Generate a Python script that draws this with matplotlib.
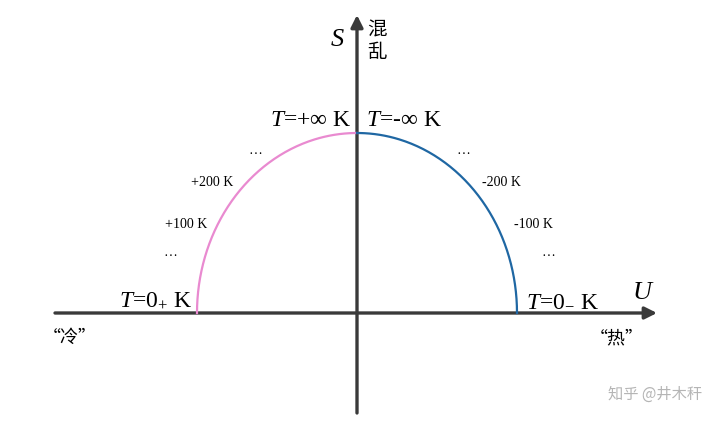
import numpy as np
import matplotlib
matplotlib.use('Agg')
import matplotlib.pyplot as plt

plt.rcParams['mathtext.fontset'] = 'custom'
plt.rcParams['mathtext.rm'] = 'Liberation Serif'
plt.rcParams['mathtext.it'] = 'Liberation Serif:italic'

SERIF = ['Liberation Serif', 'DejaVu Serif']
CJK = ['Noto Sans CJK SC', 'DejaVu Sans']

# chart content, in pixel space of the 720x424 picture
origin = (357, 313)
radius_x, radius_y = 160, 180
u_axis = (55, 657)
s_axis = (413, 15)

pink = '#e98ad0'
blue = '#1f67a3'
axis_col = '#3a3a3a'

left_labels = ['…', '+200 K', '+100 K', '…']
left_pos = [(255, 150), (212, 182), (186, 224), (170, 252)]
right_labels = ['…', '-200 K', '-100 K', '…']
right_pos = [(463, 150), (501, 182), (533, 224), (548, 252)]

fig = plt.figure(figsize=(7.2, 4.24), dpi=100)
ax = fig.add_axes([0, 0, 1, 1])
ax.set_xlim(0, 720)
ax.set_ylim(424, 0)
ax.axis('off')

# axes with arrows
ax.annotate('', xy=(u_axis[1], origin[1]), xytext=(u_axis[0], origin[1]),
            arrowprops=dict(arrowstyle='-|>', lw=2.4, color=axis_col,
                            mutation_scale=18, shrinkA=0, shrinkB=0))
ax.annotate('', xy=(origin[0], s_axis[1]), xytext=(origin[0], s_axis[0]),
            arrowprops=dict(arrowstyle='-|>', lw=2.4, color=axis_col,
                            mutation_scale=18, shrinkA=0, shrinkB=0))

# half ellipse
t = np.linspace(0, np.pi / 2, 200)
ax.plot(origin[0] - radius_x * np.cos(t), origin[1] - radius_y * np.sin(t),
        color=pink, lw=1.6, zorder=3)
ax.plot(origin[0] + radius_x * np.cos(t), origin[1] - radius_y * np.sin(t),
        color=blue, lw=1.6, zorder=3)

# labels
ax.text(337, 40, '$S$', fontsize=19, family=SERIF, ha='center', va='center')
ax.text(377, 41, '混\n乱', fontsize=14, family=CJK, ha='center', va='center',
        linespacing=1.1)
ax.text(643, 293, '$U$', fontsize=19, family=SERIF, ha='center', va='center')

ax.text(351, 120, '$T$=+∞ K', fontsize=17, family=SERIF, ha='right', va='center')
ax.text(366, 120, '$T$=-∞ K', fontsize=17, family=SERIF, ha='left', va='center')
ax.text(192, 301, '$T$=0$_{{+}}$ K', fontsize=17, family=SERIF, ha='right', va='center')
ax.text(526, 301, '$T$=0$_{{-}}$ K', fontsize=17, family=SERIF, ha='left', va='center')

for lab, (x, y) in zip(left_labels, left_pos):
    ax.text(x, y, lab, fontsize=10, family=SERIF, ha='center', va='center')
for lab, (x, y) in zip(right_labels, right_pos):
    ax.text(x, y, lab, fontsize=10, family=SERIF, ha='center', va='center')

ax.text(70, 338, '\u201c冷\u201d', fontsize=13, family=CJK, ha='center', va='center')
ax.text(617, 338, '\u201c热\u201d', fontsize=13, family=CJK, ha='center', va='center')

ax.text(655, 394, '知乎 @井木秆', fontsize=11, family=CJK, color='#b5b5b5',
        ha='center', va='center')

fig.savefig('out.png', dpi=100)
